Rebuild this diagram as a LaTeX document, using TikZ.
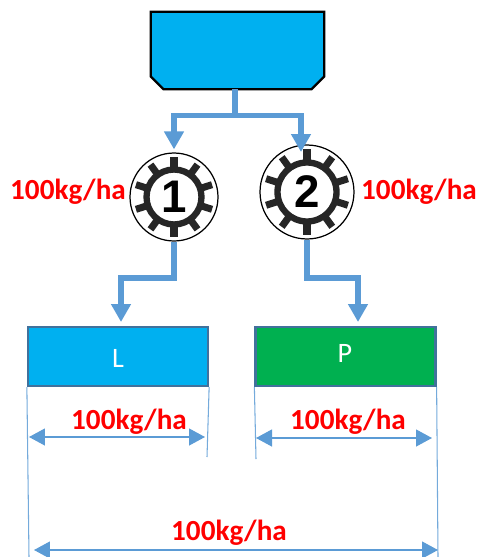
\documentclass[tikz,border=0pt]{standalone}
\usepackage{fontspec}
\setmainfont{Carlito}
\newfontfamily\digitfont{Liberation Sans}
\usetikzlibrary{arrows.meta,positioning}
\definecolor{flowblue}{HTML}{5B9BD5}
\definecolor{boxblue}{HTML}{00B0F0}
\definecolor{boxgreen}{HTML}{00B050}
\definecolor{boxedge}{HTML}{41719C}
\definecolor{gearblack}{HTML}{262626}

\begin{document}
\begin{tikzpicture}[x=0.02cm,y=-0.02cm]
\tikzset{
  hopper/.style={minimum width=3.46cm,minimum height=1.54cm,inner sep=0pt},
  hopperedge/.style={draw=black,line width=1.3pt,fill=boxblue,line join=miter},
  gearnode/.style={circle,draw=black,line width=0.7pt,fill=white,inner sep=0pt},
  gearhub/.style={circle,draw=gearblack,line width=3.6pt,fill=white,inner sep=0pt,font=\digitfont\bfseries\fontsize{26}{26}\selectfont},
  plot/.style={draw=boxedge,line width=1.3pt,minimum width=3.6cm,minimum height=1.18cm,inner sep=0pt},
  plotlabel/.style={text=white,inner sep=0pt,font=\fontsize{16}{18}\selectfont},
  ratelabel/.style={text=red,inner sep=0pt,font=\bfseries\fontsize{16.6}{18}\selectfont},
  flow/.style={draw=flowblue,line width=3.2pt,-{Triangle[length=3.6mm,width=3.8mm,sep=0pt]}},
  dimline/.style={draw=flowblue,line width=0.7pt,{Triangle[length=3.2mm,width=3.4mm]}-{Triangle[length=3.2mm,width=3.4mm]}},
  extline/.style={draw=flowblue!85!white,line width=0.6pt},
  geartooth/.style={draw=gearblack,line width=4pt}
}
\useasboundingbox (0,0) rectangle (477,557);
\node[hopper] (n_hopper) at (237.5,50.5) {};
\draw[hopperedge] (n_hopper.north west) -- (n_hopper.north east) -- ([yshift=0.26cm]n_hopper.south east)
  -- ([xshift=-0.26cm]n_hopper.south east) -- ([xshift=0.26cm]n_hopper.south west)
  -- ([yshift=0.26cm]n_hopper.south west) -- cycle;
\node[gearnode,minimum size=1.76cm] (n_gear1) at (174,197) {};
\node[gearnode,minimum size=1.88cm] (n_gear2) at (307,192) {};
\node[plot,fill=boxblue] (n_L) at (118,356.5) {};
\node[plot,fill=boxgreen] (n_P) at (345.5,356.5) {};
\node[plotlabel] (n_Ltext) at (118,358) {L};
\node[plotlabel] (n_Ptext) at (345,353) {P};
% teeth and ring of both gears
\foreach \a in {18,54,...,342} {
  \draw[geartooth] ([shift={(\a:27)}]n_gear1.center) -- ([shift={(\a:40)}]n_gear1.center);
  \draw[geartooth] ([shift={(\a:29)}]n_gear2.center) -- ([shift={(\a:43)}]n_gear2.center);
}
\node[gearhub,minimum size=1.1cm] (n_hub1) at (n_gear1) {1};
\node[gearhub,minimum size=1.18cm] (n_hub2) at (n_gear2) {2};
\coordinate (c_split) at (235,115.5);
\draw[flowblue,line width=3.2pt] (n_hopper.south -| c_split) -- (c_split);
\draw[flow] (c_split) -| ([yshift=0.06cm]n_gear1.north);
\draw[flow] (c_split) -| (301,152);
\draw[flow] (n_gear1.south) |- (121,278) -- (121,322);
\draw[flow] (n_gear2.south) |- (358,278) -- (358,322);
\node[ratelabel] (n_rate1) at (68,191.5) {100kg/ha};
\node[ratelabel] (n_rate2) at (419,191.5) {100kg/ha};
\node[ratelabel] (n_rateL) at (129,421.5) {100kg/ha};
\node[ratelabel] (n_rateP) at (348,421.5) {100kg/ha};
\node[ratelabel] (n_rateT) at (229,532.5) {100kg/ha};
\coordinate (c_Lleft) at (29,557);
\coordinate (c_Lright) at (207,457);
\coordinate (c_Pleft) at (256,459);
\coordinate (c_Pright) at (438,557);
\draw[extline] (n_L.south west) -- (c_Lleft);
\draw[extline] (n_L.south east) -- (c_Lright);
\draw[extline] (n_P.south west) -- (c_Pleft);
\draw[extline] (n_P.south east) -- (c_Pright);
\coordinate (c_d1a) at (29,437);
\coordinate (c_d1b) at (205,437);
\coordinate (c_d2a) at (256,438);
\coordinate (c_d2b) at (432,438);
\coordinate (c_d3a) at (34,550);
\coordinate (c_d3b) at (438,550);
\draw[dimline] (c_d1a) -- (c_d1b);
\draw[dimline] (c_d2a) -- (c_d2b);
\draw[dimline] (c_d3a) -- (c_d3b);
\end{tikzpicture}
\end{document}
